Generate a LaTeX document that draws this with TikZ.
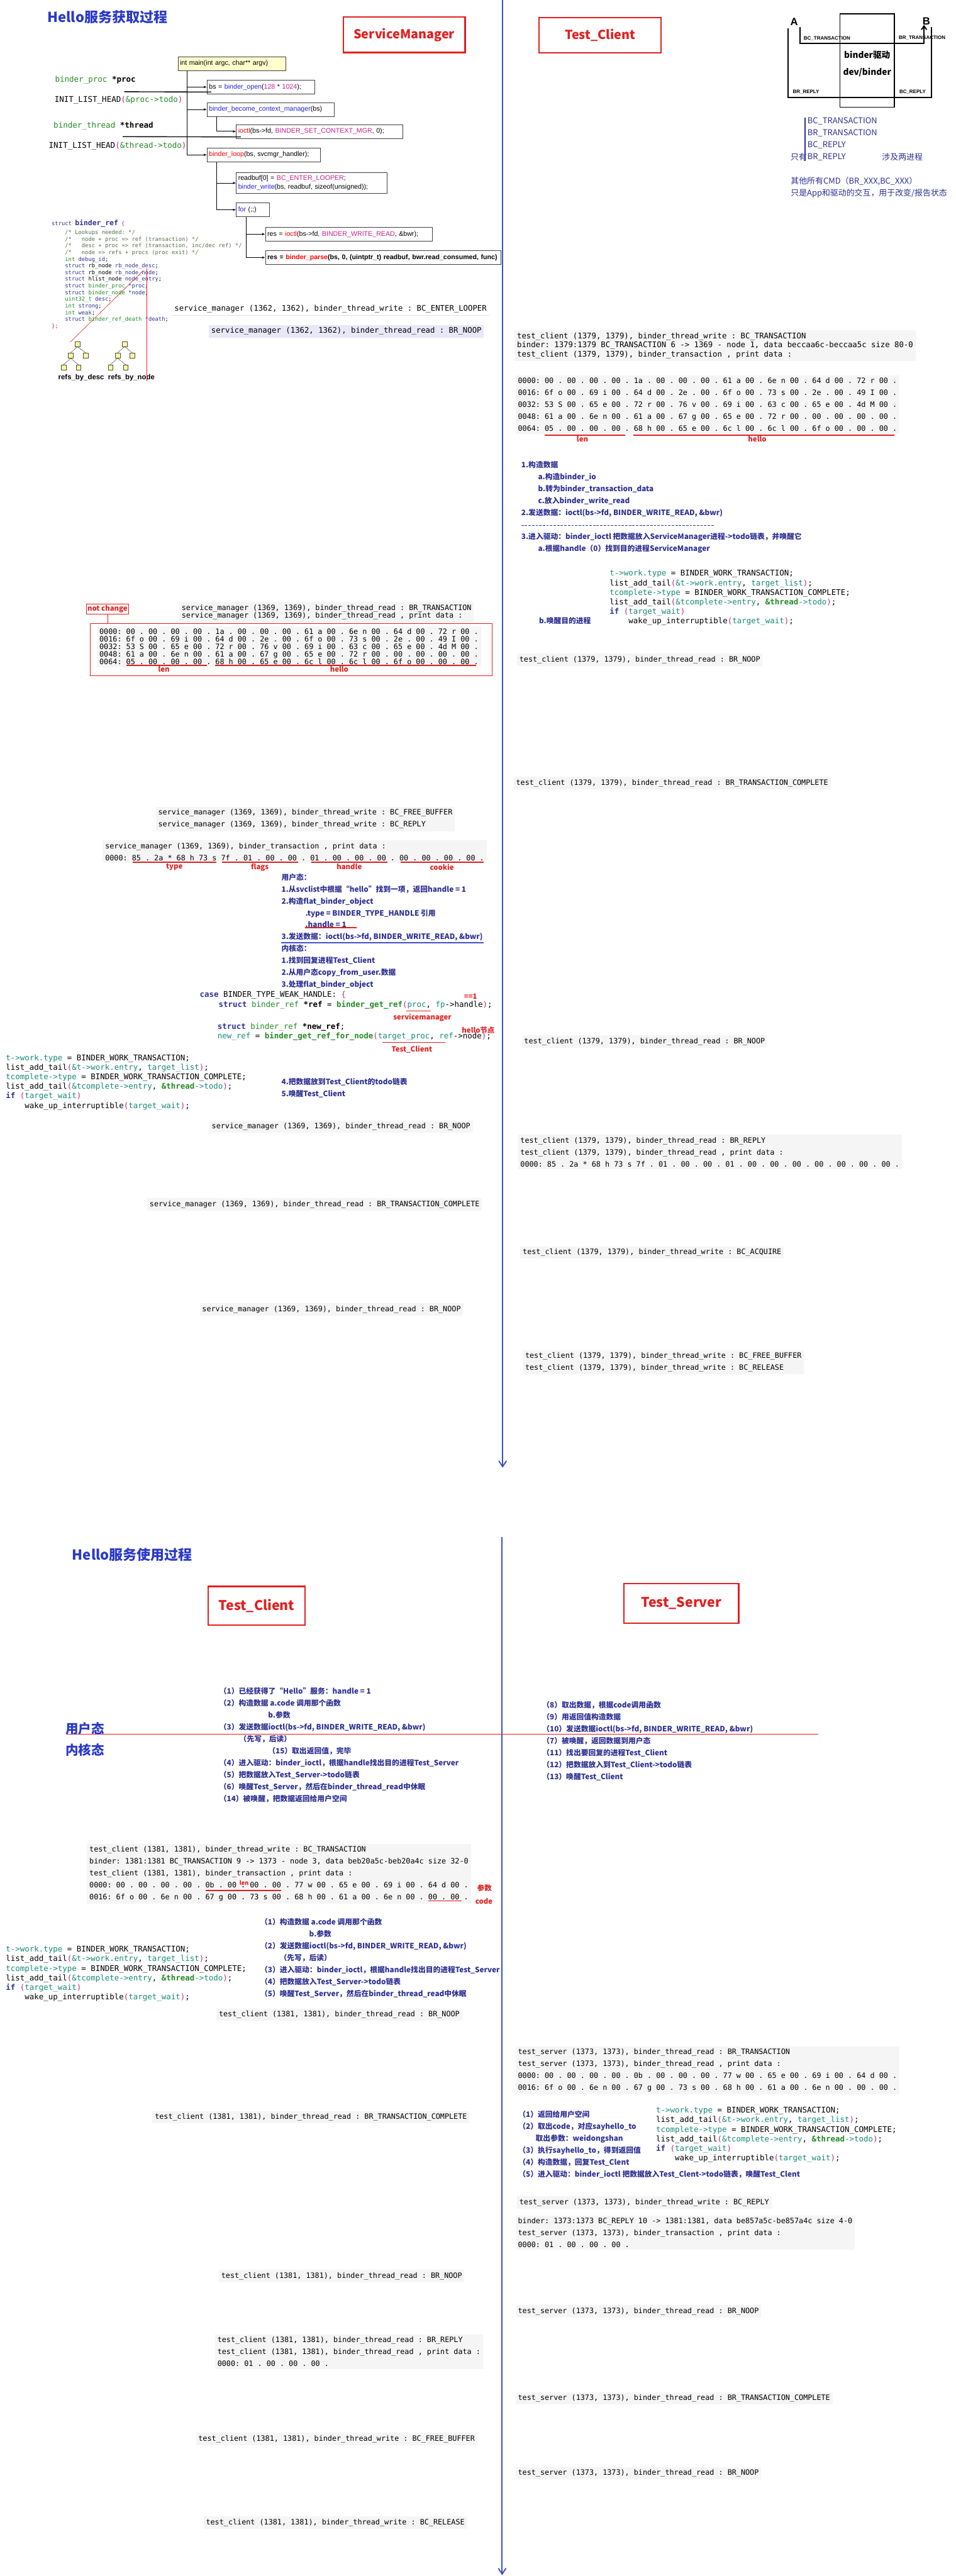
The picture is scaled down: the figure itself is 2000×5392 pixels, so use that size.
\documentclass[tikz,border=0pt]{standalone}
\usepackage{fontspec}
\setmainfont{Noto Sans CJK SC}
\setsansfont{Liberation Sans}
\setmonofont{DejaVu Sans Mono}
\usetikzlibrary{arrows.meta,positioning}
\definecolor{hbtitle}{HTML}{2B3AC6}
\definecolor{hbnavy}{HTML}{2E3192}
\definecolor{hbred}{HTML}{E0201F}
\definecolor{hbline}{HTML}{3F4FC9}
\definecolor{hbteal}{HTML}{168A78}
\definecolor{hbgreen}{HTML}{238A23}
\definecolor{hbmag}{HTML}{C8208C}
\definecolor{hbfunc}{HTML}{2424D8}
\definecolor{hbcom}{HTML}{55704A}
\definecolor{hblog}{HTML}{F5F5F5}
\definecolor{hblav}{HTML}{E8E8F8}
\definecolor{hbnote}{HTML}{FFFFCC}
\definecolor{hbleaf}{HTML}{FFFF99}
\newcommand{\hbfs}[2]{\fontsize{#1}{#2}\selectfont}
\newcommand{\hbworkcode}{%
  \textcolor{hbteal}{t->work.type} = BINDER\_WORK\_TRANSACTION;\\
  list\_add\_tail\textcolor{hbmag}{(}\textcolor{hbteal}{\&t->work.entry}, \textcolor{hbteal}{target\_list}\textcolor{hbmag}{)};\\
  \textcolor{hbteal}{tcomplete->type} = BINDER\_WORK\_TRANSACTION\_COMPLETE;\\
  list\_add\_tail\textcolor{hbmag}{(}\textcolor{hbteal}{\&tcomplete->entry}, \textbf{\textcolor{hbgreen}{\&thread}}\textcolor{hbteal}{->todo}\textcolor{hbmag}{)};\\
  \textbf{\textcolor{hbnavy}{if}} \textcolor{hbmag}{(}\textcolor{hbteal}{target\_wait}\textcolor{hbmag}{)}\\
  ~~~~wake\_up\_interruptible\textcolor{hbmag}{(}\textcolor{hbteal}{target\_wait}\textcolor{hbmag}{)};}

\begin{document}
\begin{tikzpicture}[x=1pt,y=-1pt,
  hbhead/.style={anchor=west,inner sep=0pt,text=hbtitle,font=\bfseries\hbfs{29}{34}},
  procbox/.style={draw=hbred,line width=3pt,text=hbred,font=\bfseries\hbfs{26}{30}},
  flowbox/.style={draw=black!75,line width=1.2pt,fill=white,anchor=north west,
    inner xsep=4pt,inner ysep=0pt,minimum height=29pt,align=left,font=\sffamily\hbfs{14}{18}},
  callarrow/.style={-{Latex[length=6pt,width=5pt]},line width=1.3pt},
  wire/.style={line width=1.8pt},
  cvar/.style={anchor=west,inner sep=0pt,font=\ttfamily\hbfs{16.5}{20}},
  cblock/.style={anchor=north west,inner sep=0pt,align=left,font=\ttfamily\hbfs{16.4}{20}},
  logbox/.style={anchor=north west,fill=hblog,inner sep=5pt,align=left,font=\ttfamily\hbfs{15.5}{25}},
  memo/.style={anchor=north west,inner sep=0pt,align=left,text=hbnavy,font=\bfseries\hbfs{15.5}{25}},
  redlbl/.style={inner sep=0pt,text=hbred,font=\bfseries\hbfs{15}{18}},
  redul/.style={hbred,line width=2pt},
  redthin/.style={hbred,line width=0.8pt},
  leaf/.style={draw=black!70,fill=hbleaf,minimum width=10pt,minimum height=11pt,inner sep=0pt},
  divider/.style={hbline,line width=2.5pt,-{Straight Barb[length=12pt,width=16pt]}},
  ulink/.style={line width=2.5pt},
  drvlbl/.style={inner sep=0pt,font=\sffamily\bfseries\hbfs{10.5}{12}}]

\fill[white] (0,0) rectangle (2000,5392);
\useasboundingbox (0,0) rectangle (2000,5392);

\draw[divider] (1052,0) -- (1052,3072);
\draw[divider] (1051,3217) -- (1051,5390);

% ---------- Hello服务获取过程 ----------
\node[hbhead] (head1) at (99,36) {Hello服务获取过程};
\node[procbox,minimum width=255pt,minimum height=74pt] (smBox) at (846,73) {ServiceManager};
\node[procbox,minimum width=256pt,minimum height=74pt] (tcBox) at (1256,74) {Test\_Client};

\node[flowbox,fill=hbnote,text width=217pt] (main) at (372,118) {int main(int argc, char** argv)};
\node[flowbox,text width=217pt] (bs) at (433,167) {bs = \textcolor{hbfunc}{binder\_open}(\textcolor{hbmag}{128} * \textcolor{hbmag}{1024});};
\node[flowbox,text width=258pt] (become) at (433,214) {\textcolor{hbfunc}{binder\_become\_context\_manager}(bs)};
\node[flowbox,text width=340pt] (ctxmgr) at (494,260) {\textcolor{red}{ioctl}(bs->fd, \textcolor{hbmag}{BINDER\_SET\_CONTEXT\_MGR}, 0);};
\node[flowbox,text width=229pt] (loop) at (433,309) {\textcolor{red}{binder\_loop}(bs, svcmgr\_handler);};
\node[flowbox,text width=307pt,minimum height=43pt] (readbuf) at (494,361) {readbuf[0] = \textcolor{hbmag}{BC\_ENTER\_LOOPER};\\\textcolor{hbfunc}{binder\_write}(bs, readbuf, sizeof(unsigned));};
\node[flowbox,text width=62pt] (forloop) at (494,424) {\textcolor{hbfunc}{for} (;;)};
\node[flowbox,text width=341pt] (rwio) at (555,475) {res = \textcolor{red}{ioctl}(bs->fd, \textcolor{hbmag}{BINDER\_WRITE\_READ}, \&bwr);};
\node[flowbox,text width=485pt,font=\sffamily\bfseries\hbfs{14}{18}] (parse) at (555,524) {\mbox{res = \textcolor{red}{binder\_parse}(bs, 0, (uintptr\_t) readbuf, bwr.read\_consumed, func)}};

\draw[callarrow] ([xshift=20pt]main.south west) |- (bs.west);
\draw[callarrow] ([xshift=20pt]main.south west) |- (become.west);
\draw[callarrow] ([xshift=20pt]main.south west) |- (loop.west);
\draw[callarrow] ([xshift=20pt]become.south west) |- (ctxmgr.west);
\draw[callarrow] ([xshift=20pt]loop.south west) |- (readbuf.west);
\draw[callarrow] ([xshift=20pt]loop.south west) |- (forloop.west);
\draw[callarrow] ([xshift=21pt]forloop.south west) |- (rwio.west);
\draw[callarrow] ([xshift=21pt]forloop.south west) |- (parse.west);

\node[cvar] (proc) at (115,168) {\textcolor{hbgreen}{binder\_proc} \textbf{*proc}};
\node[cvar] (procInit) at (114,209) {INIT\_LIST\_HEAD\textcolor{hbmag}{(}\textcolor{hbgreen}{\&proc->todo}\textcolor{hbmag}{)}};
\node[cvar] (thread) at (112,263) {\textcolor{hbgreen}{binder\_thread} \textbf{*thread}};
\node[cvar] (threadInit) at (102,306) {INIT\_LIST\_HEAD\textcolor{hbmag}{(}\textcolor{hbgreen}{\&thread->todo}\textcolor{hbmag}{)}};
\draw[wire] ([xshift=-24pt,yshift=-24pt]proc.east) -- ([xshift=9pt,yshift=-10.5pt]bs.west);
\draw[wire] ([xshift=-64pt,yshift=-23pt]thread.east) -- ([xshift=10pt,yshift=-11.5pt]ctxmgr.west);

\node[anchor=north west,inner sep=0pt,align=left,font=\ttfamily\hbfs{11.6}{14}] (refStruct) at (108,459) {%
\textcolor{hbnavy}{struct} \textbf{\textcolor{hbnavy}{\hbfs{15}{14}binder\_ref}} \textcolor{hbmag}{\{}\\[5pt]
~~~~\textcolor{hbcom}{/* Lookups needed: */}\\
~~~~\textcolor{hbcom}{/*~~~node + proc => ref (transaction) */}\\
~~~~\textcolor{hbcom}{/*~~~desc + proc => ref (transaction, inc/dec ref) */}\\
~~~~\textcolor{hbcom}{/*~~~node => refs + procs (proc exit) */}\\
~~~~\textcolor{hbgreen}{int} \textcolor{hbnavy}{debug\_id};\\
~~~~\textcolor{hbnavy}{struct} rb\_node \textcolor{hbnavy}{rb\_node\_desc};\\
~~~~\textcolor{hbnavy}{struct} rb\_node \textcolor{hbnavy}{rb\_node\_node};\\
~~~~\textcolor{hbnavy}{struct} hlist\_node \textcolor{hbnavy}{node\_entry};\\
~~~~\textcolor{hbnavy}{struct} \textcolor{hbgreen}{binder\_proc} \textcolor{hbnavy}{*proc};\\
~~~~\textcolor{hbnavy}{struct} \textcolor{hbgreen}{binder\_node} \textcolor{hbnavy}{*node};\\
~~~~\textcolor{hbgreen}{uint32\_t} \textcolor{hbnavy}{desc};\\
~~~~\textcolor{hbgreen}{int} \textcolor{hbnavy}{strong};\\
~~~~\textcolor{hbgreen}{int} \textcolor{hbnavy}{weak};\\
~~~~\textcolor{hbnavy}{struct} \textcolor{hbgreen}{binder\_ref\_death} \textcolor{hbnavy}{*death};\\
\textcolor{hbmag}{\};}};

\node[leaf] (d1) at (162,720) {};
\node[leaf] (d2) at (148,744) {};
\node[leaf] (d3) at (179,744) {};
\node[leaf] (d4) at (133,769) {};
\node[leaf] (d5) at (164,769) {};
\node[leaf] (n1) at (261,720) {};
\node[leaf] (n2) at (246,744) {};
\node[leaf] (n3) at (277,744) {};
\node[leaf] (n4) at (231,769) {};
\node[leaf] (n5) at (263,769) {};
\draw (d1.south) -- (d2.north) (d1.south) -- (d3.north) (d2.south) -- (d4.north) (d2.south) -- (d5.north);
\draw (n1.south) -- (n2.north) (n1.south) -- (n3.north) (n2.south) -- (n4.north) (n2.south) -- (n5.north);
\node[inner sep=0pt,font=\sffamily\bfseries\hbfs{15}{18}] (byDesc) at (170,791) {refs\_by\_desc};
\node[inner sep=0pt,font=\sffamily\bfseries\hbfs{15}{18}] (byNode) at (275,791) {refs\_by\_node};
\draw[redthin] (d1.north west) ++(-10,2) -- ++(153,-150);
\coordinate (refTip) at (307,562);
\draw[redthin] (refTip) -- (refTip |- byNode.south);

\node[logbox,fill=white,font=\ttfamily\hbfs{16.2}{19}] (smLooper) at (360,634) {service\_manager (1362, 1362), binder\_thread\_write : BC\_ENTER\_LOOPER};
\draw[black!12,line width=1.5pt] (smLooper.south west) -- (smLooper.south east);
\node[logbox,fill=hblav,font=\ttfamily\hbfs{16.2}{19}] (smNoop1) at (437,680) {service\_manager (1362, 1362), binder\_thread\_read : BR\_NOOP};

% binder driver sketch
\node[draw,line width=2.5pt,minimum width=114pt,minimum height=195pt,inner sep=0pt] (drv) at (1815,127) {};
\node[font=\bfseries\hbfs{18}{35},align=center,inner sep=0pt] (drvText) at (1815,134) {binder驱动\\dev/binder};
\draw[ulink] (1649,59) |- (1950,204) -- (1950,57);
\draw[ulink,-{Straight Barb[length=8pt,width=11pt]}] (1674,57) |- (1934,91) -- (1934,52);
\node[inner sep=0pt,font=\sffamily\bfseries\hbfs{22}{24}] (sideA) at (1662,46) {A};
\node[inner sep=0pt,font=\sffamily\bfseries\hbfs{22}{24}] (sideB) at (1939,45) {B};
\node[drvlbl] (bcTx) at (1731,80) {BC\_TRANSACTION};
\node[drvlbl] (brTx) at (1930,79) {BR\_TRANSACTION};
\node[drvlbl] (brRe) at (1687,193) {BR\_REPLY};
\node[drvlbl] (bcRe) at (1910,192) {BC\_REPLY};

\node[memo,font=\hbfs{17}{25}] (cmdList) at (1690,246) {BC\_TRANSACTION\\BR\_TRANSACTION\\BC\_REPLY\\BR\_REPLY};
\node[memo,font=\hbfs{17}{25},anchor=north east] (onlyTag) at (1689,321) {只有};
\node[memo,font=\hbfs{17}{25}] (twoProc) at (1846,321) {涉及两进程};
\draw[hbnavy,line width=1.5pt] ([xshift=-5pt]cmdList.north west) -- ([xshift=-5pt]cmdList.south west);
\node[memo,font=\hbfs{17}{25}] (cmdNote) at (1655,370) {其他所有CMD（BR\_XXX,BC\_XXX）\\只是App和驱动的交互，用于改变/报告状态};

% test_client sends
\node[logbox,font=\ttfamily\hbfs{16.2}{19}] (tcTx) at (1077,691) {test\_client (1379, 1379), binder\_thread\_write : BC\_TRANSACTION\\binder: 1379:1379 BC\_TRANSACTION 6 -> 1369 - node 1, data beccaa6c-beccaa5c size 80-0\\test\_client (1379, 1379), binder\_transaction , print data :};
\node[logbox] (tcHex) at (1079,786) {0000: 00 . 00 . 00 . 00 . 1a . 00 . 00 . 00 . 61 a 00 . 6e n 00 . 64 d 00 . 72 r 00 .\\
0016: 6f o 00 . 69 i 00 . 64 d 00 . 2e . 00 . 6f o 00 . 73 s 00 . 2e . 00 . 49 I 00 .\\
0032: 53 S 00 . 65 e 00 . 72 r 00 . 76 v 00 . 69 i 00 . 63 c 00 . 65 e 00 . 4d M 00 .\\
0048: 61 a 00 . 6e n 00 . 61 a 00 . 67 g 00 . 65 e 00 . 72 r 00 . 00 . 00 . 00 . 00 .\\
0064: 05 . 00 . 00 . 00 . 68 h 00 . 65 e 00 . 6c l 00 . 6c l 00 . 6f o 00 . 00 . 00 .};
\draw[redul] (1140,911) -- (1309,911);
\draw[redul] (1325,911) -- (1872,911);
\node[redlbl,anchor=north] (lenA) at (1219,913) {len};
\node[redlbl,anchor=north] (helloA) at (1585,913) {hello};

\node[memo] (tcSteps) at (1091,965) {1.构造数据\\
\hspace*{35pt}a.构造binder\_io\\
\hspace*{35pt}b.转为binder\_transaction\_data\\
\hspace*{35pt}c.放入binder\_write\_read\\
2.发送数据：ioctl(bs->fd, BINDER\_WRITE\_READ, \&bwr)\\[25pt]
3.进入驱动：binder\_ioctl 把数据放入ServiceManager进程->todo链表，并唤醒它\\
\hspace*{35pt}a.根据handle（0）找到目的进程ServiceManager};
\draw[hbnavy,line width=1.2pt,dash pattern=on 5pt off 2.5pt] (1091,1100) -- (1495,1100);
\node[cblock] (workR1) at (1276,1193) {\hbworkcode};
\node[memo,anchor=west] (wakeTgt) at (1128,1299) {b.唤醒目的进程};
\node[logbox] (tcNoop1) at (1082,1368) {test\_client (1379, 1379), binder\_thread\_read : BR\_NOOP};

% service_manager receives
\node[draw=hbred,line width=1.3pt,text=hbred,font=\bfseries\hbfs{15}{18},minimum width=88pt,minimum height=22pt,inner sep=1pt] (notChg) at (225,1275) {not change};
\node[draw=hbred,line width=1.3pt,minimum width=841pt,minimum height=109pt,anchor=north west,inner sep=0pt] (keepBox) at (188,1305) {};
\draw[redthin] (notChg.south) -- (notChg.south |- keepBox.north);
\node[logbox,font=\ttfamily\hbfs{15.5}{15}] (smTx) at (375,1260) {service\_manager (1369, 1369), binder\_thread\_read : BR\_TRANSACTION\\service\_manager (1369, 1369), binder\_thread\_read , print data :};
\node[logbox,font=\ttfamily\hbfs{15.5}{15.8}] (smHex) at (203,1311) {0000: 00 . 00 . 00 . 00 . 1a . 00 . 00 . 00 . 61 a 00 . 6e n 00 . 64 d 00 . 72 r 00 .\\
0016: 6f o 00 . 69 i 00 . 64 d 00 . 2e . 00 . 6f o 00 . 73 s 00 . 2e . 00 . 49 I 00 .\\
0032: 53 S 00 . 65 e 00 . 72 r 00 . 76 v 00 . 69 i 00 . 63 c 00 . 65 e 00 . 4d M 00 .\\
0048: 61 a 00 . 6e n 00 . 61 a 00 . 67 g 00 . 65 e 00 . 72 r 00 . 00 . 00 . 00 . 00 .\\
0064: 05 . 00 . 00 . 00 . 68 h 00 . 65 e 00 . 6c l 00 . 6c l 00 . 6f o 00 . 00 . 00 .};
\draw[redul] (265,1393) -- (433,1393);
\draw[redul] (450,1393) -- (996,1393);
\node[redlbl,anchor=north] (lenB) at (343,1395) {len};
\node[redlbl,anchor=north] (helloB) at (710,1395) {hello};

\node[logbox] (smFree) at (326,1689) {service\_manager (1369, 1369), binder\_thread\_write : BC\_FREE\_BUFFER\\service\_manager (1369, 1369), binder\_thread\_write : BC\_REPLY};
\node[logbox] (smTxData) at (215,1759) {service\_manager (1369, 1369), binder\_transaction , print data :\\0000: 85 . 2a * 68 h 73 s 7f . 01 . 00 . 00 . 01 . 00 . 00 . 00 . 00 . 00 . 00 . 00 .};
\draw[redul] (278,1805) -- (453,1805);
\draw[redul] (465,1805) -- (624,1805);
\draw[redul] (651,1805) -- (811,1805);
\draw[redul] (838,1805) -- (1012,1805);
\node[redlbl,anchor=north] (typeLbl) at (365,1808) {type};
\node[redlbl,anchor=north] (flagsLbl) at (544,1808) {flags};
\node[redlbl,anchor=north] (handleLbl) at (731,1808) {handle};
\node[redlbl,anchor=north] (cookieLbl) at (925,1808) {cookie};

\node[memo] (svcSteps) at (589,1828) {用户态：\\
1.从svclist中根据“hello”找到一项，返回handle = 1\\
2.构造flat\_binder\_object\\
\hspace*{50pt}.type = BINDER\_TYPE\_HANDLE 引用\\
\hspace*{50pt}.handle = 1\\
3.发送数据：ioctl(bs->fd, BINDER\_WRITE\_READ, \&bwr)\\
内核态：\\
1.找到回复进程Test\_Client\\
2.从用户态copy\_from\_user.数据\\
3.处理flat\_binder\_object};
\draw[redul] (639,1942) -- (746,1942);
\draw[hbline,line width=2pt] (589,1973) -- (1012,1973);

\node[cblock] (caseBlk) at (418,2075) {\textbf{\textcolor{hbnavy}{case}} BINDER\_TYPE\_WEAK\_HANDLE: \textcolor{hbmag}{\{}\\
~~~~\textbf{\textcolor{hbnavy}{struct}} \textcolor{hbgreen}{binder\_ref} \textbf{*ref} = \textbf{\textcolor{hbgreen}{binder\_get\_ref}}\textcolor{hbmag}{(}\textcolor{hbteal}{proc}, \textcolor{hbteal}{fp}->handle\textcolor{hbmag}{)};};
\node[cblock] (newRef) at (455,2142) {\textbf{\textcolor{hbnavy}{struct}} \textcolor{hbgreen}{binder\_ref} \textbf{*new\_ref};\\
\textcolor{hbteal}{new\_ref} = \textbf{\textcolor{hbgreen}{binder\_get\_ref\_for\_node}}\textcolor{hbmag}{(}\textcolor{hbteal}{target\_proc}, \textcolor{hbteal}{ref}->node\textcolor{hbmag}{)};};
\node[redlbl] (eqOne) at (985,2086) {==1};
\draw[redul] (851,2116) -- (902,2116);
\node[redlbl] (smLbl) at (884,2130) {servicemanager};
\node[redlbl] (helloNode) at (1001,2157) {hello节点};
\draw[redul] (801,2182) -- (932,2182);
\node[redlbl] (tcLbl) at (862,2197) {Test\_Client};

\node[cblock] (workL1) at (12,2207) {\hbworkcode};
\node[memo] (svcWake) at (589,2256) {4.把数据放到Test\_Client的todo链表\\5.唤醒Test\_Client};
\node[logbox] (smNoop2) at (438,2345) {service\_manager (1369, 1369), binder\_thread\_read : BR\_NOOP};
\node[logbox] (smComplete) at (308,2508) {service\_manager (1369, 1369), binder\_thread\_read : BR\_TRANSACTION\_COMPLETE};
\node[logbox] (smNoop3) at (418,2728) {service\_manager (1369, 1369), binder\_thread\_read : BR\_NOOP};

\node[logbox] (tcComplete) at (1075,1626) {test\_client (1379, 1379), binder\_thread\_read : BR\_TRANSACTION\_COMPLETE};
\node[logbox] (tcNoop2) at (1092,2167) {test\_client (1379, 1379), binder\_thread\_read : BR\_NOOP};
\node[logbox] (tcReply) at (1084,2375) {test\_client (1379, 1379), binder\_thread\_read : BR\_REPLY\\test\_client (1379, 1379), binder\_thread\_read , print data :\\0000: 85 . 2a * 68 h 73 s 7f . 01 . 00 . 00 . 01 . 00 . 00 . 00 . 00 . 00 . 00 . 00 .};
\node[logbox] (tcAcquire) at (1089,2609) {test\_client (1379, 1379), binder\_thread\_write : BC\_ACQUIRE};
\node[logbox] (tcFree) at (1094,2826) {test\_client (1379, 1379), binder\_thread\_write : BC\_FREE\_BUFFER\\test\_client (1379, 1379), binder\_thread\_write : BC\_RELEASE};

% ---------- Hello服务使用过程 ----------
\node[hbhead] (head2) at (151,3254) {Hello服务使用过程};
\node[procbox,minimum width=202pt,minimum height=81pt,font=\bfseries\hbfs{28}{32}] (tc2Box) at (537,3361) {Test\_Client};
\node[procbox,minimum width=240pt,minimum height=83pt,font=\bfseries\hbfs{28}{32}] (tsBox) at (1426,3356) {Test\_Server};
\draw[hbred,line width=2.5pt] (140,3630) -- (1712,3630);
\node[inner sep=0pt,text=hbtitle,font=\bfseries\hbfs{27}{30}] (userLbl) at (178,3618) {用户态};
\node[inner sep=0pt,text=hbtitle,font=\bfseries\hbfs{27}{30}] (kernLbl) at (178,3663) {内核态};

\node[memo] (cliNotes) at (459,3532) {（1）已经获得了“Hello”服务：handle = 1\\
（2）构造数据 a.code 调用那个函数\\
\hspace*{102pt}b.参数\\
（3）发送数据ioctl(bs->fd, BINDER\_WRITE\_READ, \&bwr)\\
\hspace*{42pt}（先写，后读）\\
\hspace*{102pt}（15）取出返回值，完毕\\
（4）进入驱动：binder\_ioctl，根据handle找出目的进程Test\_Server\\
（5）把数据放入Test\_Server->todo链表\\
（6）唤醒Test\_Server，然后在binder\_thread\_read中休眠\\
（14）被唤醒，把数据返回给用户空间};
\node[memo] (srvNotes) at (1135,3561) {（8）取出数据，根据code调用函数\\
（9）用返回值构造数据\\
（10）发送数据ioctl(bs->fd, BINDER\_WRITE\_READ, \&bwr)\\
（7）被唤醒，返回数据到用户态\\
（11）找出要回复的进程Test\_Client\\
（12）把数据放入到Test\_Client->todo链表\\
（13）唤醒Test\_Client};

\node[logbox] (cliTx) at (182,3859) {test\_client (1381, 1381), binder\_thread\_write : BC\_TRANSACTION\\
binder: 1381:1381 BC\_TRANSACTION 9 -> 1373 - node 3, data beb20a5c-beb20a4c size 32-0\\
test\_client (1381, 1381), binder\_transaction , print data :\\
0000: 00 . 00 . 00 . 00 . 0b . 00 . 00 . 00 . 77 w 00 . 65 e 00 . 69 i 00 . 64 d 00 .\\
0016: 6f o 00 . 6e n 00 . 67 g 00 . 73 s 00 . 68 h 00 . 61 a 00 . 6e n 00 . 00 . 00 .};
\node[redlbl,font=\bfseries\hbfs{12}{14}] (lenC) at (511,3941) {len};
\draw[redul] (430,3957) -- (588,3957);
\draw[redul] (896,3979) -- (966,3979);
\node[redlbl] (argLbl) at (1014,3952) {参数};
\node[redlbl] (codeLbl) at (1013,3980) {code};

\node[cblock] (workL2) at (12,4073) {\hbworkcode};
\node[memo] (cliSteps) at (545,4015) {（1）构造数据 a.code 调用那个函数\\
\hspace*{102pt}b.参数\\
（2）发送数据ioctl(bs->fd, BINDER\_WRITE\_READ, \&bwr)\\
\hspace*{40pt}（先写，后读）\\
（3）进入驱动：binder\_ioctl，根据handle找出目的进程Test\_Server\\
（4）把数据放入Test\_Server->todo链表\\
（5）唤醒Test\_Server，然后在binder\_thread\_read中休眠};
\node[logbox] (cliNoop) at (453,4204) {test\_client (1381, 1381), binder\_thread\_read : BR\_NOOP};
\node[logbox] (cliComplete) at (319,4419) {test\_client (1381, 1381), binder\_thread\_read : BR\_TRANSACTION\_COMPLETE};

\node[logbox] (srvTx) at (1079,4283) {test\_server (1373, 1373), binder\_thread\_read : BR\_TRANSACTION\\
test\_server (1373, 1373), binder\_thread\_read , print data :\\
0000: 00 . 00 . 00 . 00 . 0b . 00 . 00 . 00 . 77 w 00 . 65 e 00 . 69 i 00 . 64 d 00 .\\
0016: 6f o 00 . 6e n 00 . 67 g 00 . 73 s 00 . 68 h 00 . 61 a 00 . 6e n 00 . 00 . 00 .};
\node[memo] (srvSteps) at (1085,4418) {（1）返回给用户空间\\
（2）取出code，对应sayhello\_to\\
\hspace*{36pt}取出参数：weidongshan\\
（3）执行sayhello\_to，得到返回值\\
（4）构造数据，回复Test\_Clent\\
（5）进入驱动：binder\_ioctl 把数据放入Test\_Clent->todo链表，唤醒Test\_Clent};
\node[cblock] (workR2) at (1373,4410) {\hbworkcode};

\node[logbox] (srvReply) at (1082,4597) {test\_server (1373, 1373), binder\_thread\_write : BC\_REPLY};
\node[logbox] (srvReplyData) at (1079,4637) {binder: 1373:1373 BC\_REPLY 10 -> 1381:1381, data be857a5c-be857a4c size 4-0\\
test\_server (1373, 1373), binder\_transaction , print data :\\
0000: 01 . 00 . 00 . 00 .};
\node[logbox] (cliNoop2) at (458,4751) {test\_client (1381, 1381), binder\_thread\_read : BR\_NOOP};
\node[logbox] (srvNoop) at (1079,4825) {test\_server (1373, 1373), binder\_thread\_read : BR\_NOOP};
\node[logbox] (cliReply) at (450,4886) {test\_client (1381, 1381), binder\_thread\_read : BR\_REPLY\\
test\_client (1381, 1381), binder\_thread\_read , print data :\\
0000: 01 . 00 . 00 . 00 .};
\node[logbox] (srvComplete) at (1079,5007) {test\_server (1373, 1373), binder\_thread\_read : BR\_TRANSACTION\_COMPLETE};
\node[logbox] (cliFree) at (410,5092) {test\_client (1381, 1381), binder\_thread\_write : BC\_FREE\_BUFFER};
\node[logbox] (srvNoop2) at (1079,5164) {test\_server (1373, 1373), binder\_thread\_read : BR\_NOOP};
\node[logbox] (cliRelease) at (426,5267) {test\_client (1381, 1381), binder\_thread\_write : BC\_RELEASE};
\end{tikzpicture}
\end{document}
